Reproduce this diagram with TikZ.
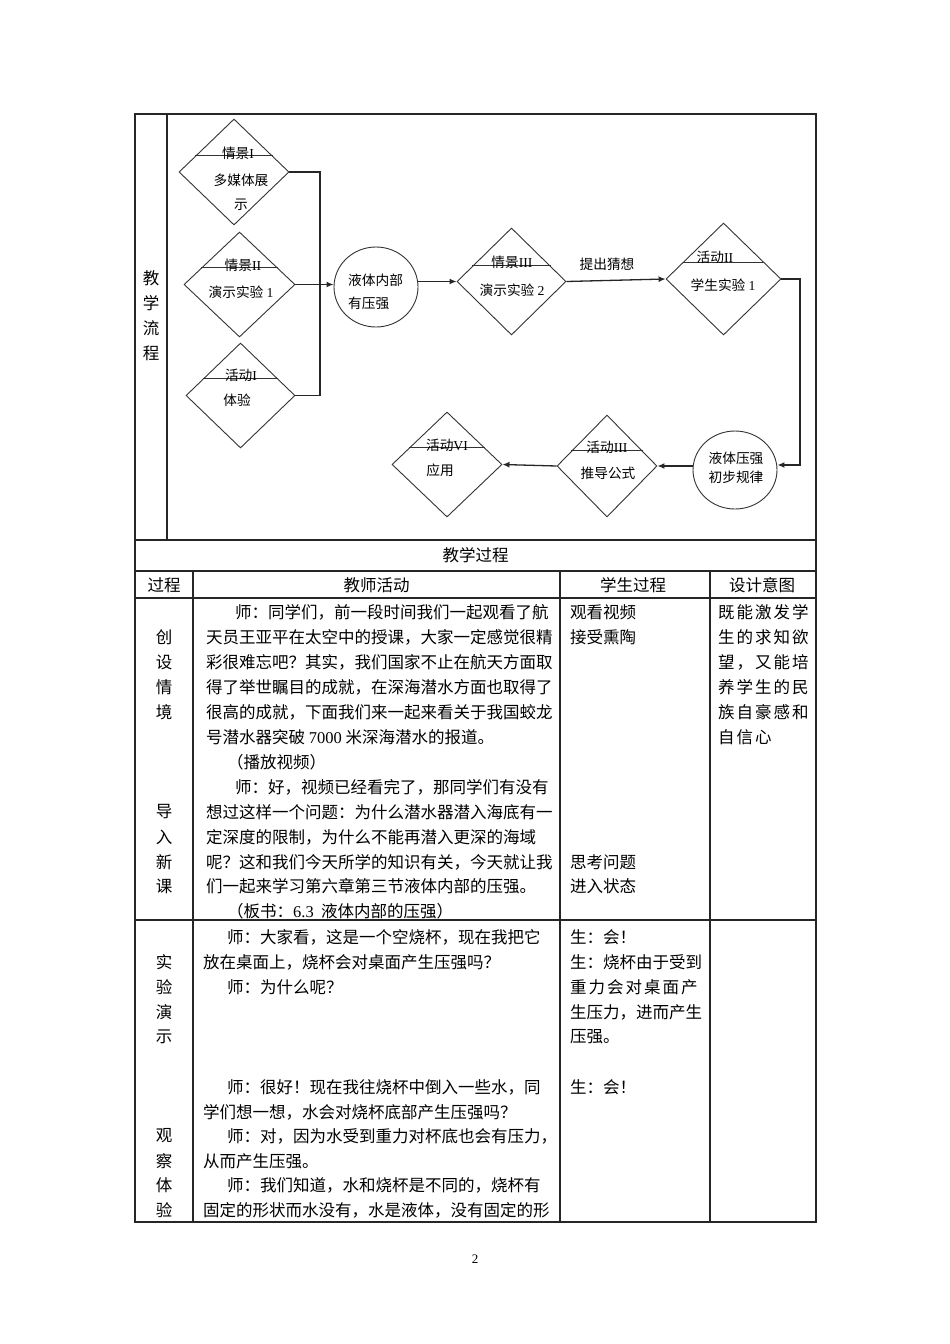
\documentclass[tikz,border=0pt]{standalone}
\usepackage{fontspec}
\setmainfont{Liberation Serif}
\newfontfamily\cjk{Noto Sans CJK SC}
\newfontfamily\cjksp[LetterSpace=12]{Noto Sans CJK SC}
\usetikzlibrary{shapes.geometric,arrows.meta,calc}
\newcommand\en[1]{{\rmfamily #1}}
\newcommand\bodyf{\cjk\fontsize{16.5}{20}\selectfont}
\newcommand\bodysp{\cjksp\fontsize{16.5}{20}\selectfont}
\newcommand\flowf{\cjk\fontsize{13.7}{16}\selectfont}
\begin{document}
\begin{tikzpicture}[x=1pt,y=-1pt,
  tl/.style={line width=1.1pt, draw=black!85},
  dia/.style={draw=black!80, line width=0.9pt, diamond, inner sep=0pt},
  circ/.style={draw=black!80, line width=0.9pt, ellipse, inner sep=0pt, minimum width=84pt},
  hl/.style={draw=black!80, line width=0.9pt},
  conn/.style={draw=black!85, line width=1.3pt},
  arr/.style={conn, -{Latex[length=7pt,width=6pt]}},
  ft/.style={inner sep=0pt, font=\flowf},
  bt/.style={inner sep=0pt, font=\bodyf, anchor=west},
  bs/.style={inner sep=0pt, font=\bodysp, anchor=west},
  lab/.style={inner sep=0pt, font=\bodyf}
]
\useasboundingbox (0,0) rectangle (950,1344);
\fill[white] (0,0) rectangle (950,1344);

% ---------- table grid ----------
\draw[tl] (135,114) rectangle (816,1222);
\draw[tl] (167,114) -- (167,540);
\draw[tl] (135,540) -- (816,540);
\draw[tl] (135,571) -- (816,571);
\draw[tl] (135,598) -- (816,598);
\draw[tl] (135,920) -- (816,920);
\draw[tl] (193,571) -- (193,1222);
\draw[tl] (560,571) -- (560,1222);
\draw[tl] (710,571) -- (710,1222);

% left label of flow
\node[lab] (l1) at (151,278) {教};
\node[lab] (l2) at (151,303) {学};
\node[lab] (l3) at (151,328) {流};
\node[lab] (l4) at (151,353) {程};

% ---------- flowchart ----------
\node[dia, minimum width=110pt, minimum height=106pt] (d1) at (234,172) {};
\node[dia, minimum width=111pt, minimum height=105pt] (d2) at (239.5,284.5) {};
\node[dia, minimum width=109pt, minimum height=105pt] (d3) at (240.5,395.5) {};
\node[circ, minimum height=80pt] (c1) at (376,287) {};
\node[dia, minimum width=109pt, minimum height=107pt] (d4) at (511.5,281.5) {};
\node[dia, minimum width=115pt, minimum height=112pt] (d5) at (723.5,279) {};
\node[circ, minimum height=78pt] (c2) at (735,470) {};
\node[dia, minimum width=100pt, minimum height=102pt] (d6) at (607,466) {};
\node[dia, minimum width=110pt, minimum height=105pt] (d7) at (447,464.5) {};

% title lines
\draw[hl] ($(d1.north)!0.698!(d1.west)$) -- ($(d1.north)!0.698!(d1.east)$);
\draw[hl] ($(d2.north)!0.686!(d2.west)$) -- ($(d2.north)!0.686!(d2.east)$);
\draw[hl] ($(d3.north)!0.686!(d3.west)$) -- ($(d3.north)!0.686!(d3.east)$);
\draw[hl] ($(d4.north)!0.71!(d4.west)$) -- ($(d4.north)!0.71!(d4.east)$);
\draw[hl] ($(d5.north)!0.70!(d5.west)$) -- ($(d5.north)!0.70!(d5.east)$);
\draw[hl] ($(d6.north)!0.706!(d6.west)$) -- ($(d6.north)!0.706!(d6.east)$);
\draw[hl] ($(d7.north)!0.686!(d7.west)$) -- ($(d7.north)!0.686!(d7.east)$);

% flow texts
\node[ft] (d1t) at (238,153) {情景\en{I}};
\node[ft] (d1a) at (241,180) {多媒体展};
\node[ft] (d1b) at (241,205) {示};
\node[ft] (d2t) at (243,265) {情景\en{II}};
\node[ft] (d2a) at (241,292) {演示实验 \en{1}};
\node[ft] (d3t) at (241,375) {活动\en{I}};
\node[ft] (d3a) at (237,400) {体验};
\node[ft, anchor=west] (c1a) at (348,280) {液体内部};
\node[ft, anchor=west] (c1b) at (348,303) {有压强};
\node[ft] (d4t) at (512,262) {情景\en{III}};
\node[ft] (d4a) at (512,290) {演示实验 \en{2}};
\node[ft] (d5t) at (715,257) {活动\en{II}};
\node[ft] (d5a) at (723,285) {学生实验 \en{1}};
\node[ft] (c2a) at (736,458) {液体压强};
\node[ft] (c2b) at (736,477) {初步规律};
\node[ft] (d6t) at (607,447) {活动\en{III}};
\node[ft] (d6a) at (608,473) {推导公式};
\node[ft] (d7t) at (447,445) {活动\en{VI}};
\node[ft] (d7a) at (440,470) {应用};

% connectors
\coordinate (bus) at (320,284);
\draw[conn] (d1.east) -| (bus) |- (d3.east);
\draw[arr] (d2.east) -- (c1.west |- d2.east);
\draw[arr] (c1.east |- d4.west) -- (d4.west);
\draw[arr] (d4.east) -- (d5.west);
\node[ft] (lbl) at (607,264) {提出猜想};
\coordinate (r1) at (800,465);
\draw[arr] (d5.east) -| (r1) -- (c2.east |- r1);
\draw[arr] (c2.west |- d6.east) -- (d6.east);
\draw[arr] (d6.west) -- (d7.east);

% ---------- table header ----------
\node[lab] (h0) at (475.5,555) {教学过程};
\node[lab] (h1) at (164,585) {过程};
\node[lab] (h2) at (376.5,585) {教师活动};
\node[lab] (h3) at (633,585) {学生过程};
\node[lab] (h4) at (762,585) {设计意图};

% ---------- row 1 ----------
\node[lab] (a1) at (164,637) {创};
\node[lab] (a2) at (164,662) {设};
\node[lab] (a3) at (164,687) {情};
\node[lab] (a4) at (164,712) {境};
\node[lab] (a5) at (164,812) {导};
\node[lab] (a6) at (164,837) {入};
\node[lab] (a7) at (164,862) {新};
\node[lab] (a8) at (164,886) {课};

\node[bt] (t0) at (235,612) {师：同学们，前一段时间我们一起观看了航};
\node[bt] (t1) at (206,637) {天员王亚平在太空中的授课，大家一定感觉很精};
\node[bt] (t2) at (206,662) {彩很难忘吧？其实，我们国家不止在航天方面取};
\node[bt] (t3) at (206,687) {得了举世瞩目的成就，在深海潜水方面也取得了};
\node[bt] (t4) at (206,712) {很高的成就，下面我们来一起来看关于我国蛟龙};
\node[bt] (t5) at (206,737) {号潜水器突破 \en{7000} 米深海潜水的报道。};
\node[bt] (t6) at (227,762) {（播放视频）};
\node[bt] (t7) at (235,787) {师：好，视频已经看完了，那同学们有没有};
\node[bt] (t8) at (206,812) {想过这样一个问题：为什么潜水器潜入海底有一};
\node[bt] (t9) at (206,837) {定深度的限制，为什么不能再潜入更深的海域};
\node[bt] (t10) at (206,862) {呢？这和我们今天所学的知识有关，今天就让我};
\node[bt] (t11) at (206,886) {们一起来学习第六章第三节液体内部的压强。};
\node[bt] (t12) at (227,911) {（板书：\en{6.3}\ \ 液体内部的压强）};

\node[bt] (s1) at (570,612) {观看视频};
\node[bt] (s2) at (570,637) {接受熏陶};
\node[bt] (s3) at (570,862) {思考问题};
\node[bt] (s4) at (570,886) {进入状态};

\node[bs] (g1) at (718,612) {既能激发学};
\node[bs] (g2) at (718,637) {生的求知欲};
\node[bs] (g3) at (718,662) {望，又能培};
\node[bs] (g4) at (718,687) {养学生的民};
\node[bs] (g5) at (718,712) {族自豪感和};
\node[bs] (g6) at (718,737) {自信心};

% ---------- row 2 ----------
\node[lab] (b1) at (164,962) {实};
\node[lab] (b2) at (164,987) {验};
\node[lab] (b3) at (164,1012) {演};
\node[lab] (b4) at (164,1037) {示};
\node[lab] (b5) at (164,1136) {观};
\node[lab] (b6) at (164,1161) {察};
\node[lab] (b7) at (164,1185) {体};
\node[lab] (b8) at (164,1210) {验};

\node[bt] (u0) at (227,937) {师：大家看，这是一个空烧杯，现在我把它};
\node[bt] (u1) at (203,962) {放在桌面上，烧杯会对桌面产生压强吗？};
\node[bt] (u2) at (227,987) {师：为什么呢？};
\node[bt] (u3) at (227,1087) {师：很好！现在我往烧杯中倒入一些水，同};
\node[bt] (u4) at (203,1112) {学们想一想，水会对烧杯底部产生压强吗？};
\node[bt] (u5) at (227,1136) {师：对，因为水受到重力对杯底也会有压力，};
\node[bt] (u6) at (203,1161) {从而产生压强。};
\node[bt] (u7) at (227,1185) {师：我们知道，水和烧杯是不同的，烧杯有};
\node[bt] (u8) at (203,1210) {固定的形状而水没有，水是液体，没有固定的形};

\node[bt] (v1) at (570,937) {生：会！};
\node[bt] (v2) at (570,962) {生：烧杯由于受到};
\node[bs] (v3) at (570,987) {重力会对桌面产};
\node[bt] (v4) at (570,1012) {生压力，进而产生};
\node[bt] (v5) at (570,1037) {压强。};
\node[bt] (v6) at (570,1087) {生：会！};

% page number
\node[inner sep=0pt, font=\fontsize{13}{15}\selectfont] (pg) at (475,1259) {2};
\end{tikzpicture}
\end{document}
